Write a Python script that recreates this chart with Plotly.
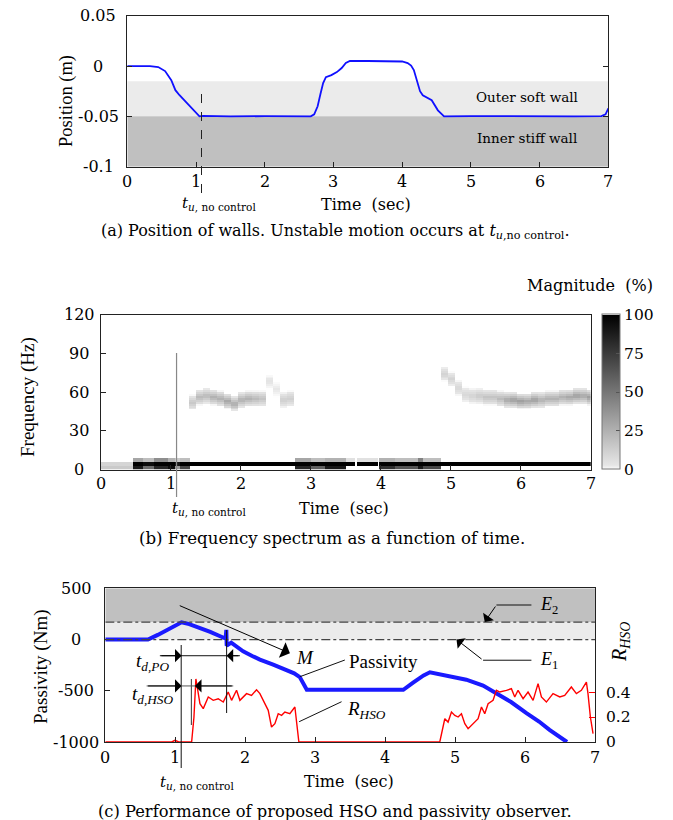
import plotly.graph_objects as go
import numpy as np

W, H = 673, 820
SERIF = "Times New Roman, Liberation Serif, Times, serif"
WIDE = "DejaVu Serif, serif"


def px(x):
    return x / W


def py(y):
    return 1 - y / H


# ---------------- (a) position of walls ----------------
pos_t = [0.0, 0.33, 0.45, 0.55, 0.64, 0.70, 0.76, 0.83, 0.925, 1.0, 1.05, 1.1, 1.5, 2.0, 2.5, 2.67,
         2.72, 2.77, 2.81, 2.85, 2.89, 2.97, 3.05, 3.12, 3.18, 3.24, 3.5, 3.89, 4.0, 4.08, 4.13,
         4.17, 4.21, 4.26, 4.30, 4.36, 4.43, 4.52, 4.61, 5.0, 5.5, 6.0, 6.5, 6.9, 6.96, 7.0]
pos_v = [0.0, 0.0, -0.001, -0.005, -0.014, -0.024, -0.029, -0.034, -0.0405, -0.046, -0.05, -0.0495,
         -0.05, -0.0498, -0.05, -0.05, -0.048, -0.04, -0.028, -0.017, -0.011, -0.009, -0.006, -0.002,
         0.003, 0.005, 0.005, 0.005, 0.0045, 0.003, 0.0005, -0.004, -0.014, -0.025, -0.029, -0.031,
         -0.034, -0.044, -0.05, -0.0497, -0.05, -0.0497, -0.05, -0.0498, -0.048, -0.042]
pos_ticks = [0.05, 0, -0.05, -0.1]
pos_tick_text = ["0.05", "0", "-0.05", "-0.1"]
time_ticks = [0, 1, 2, 3, 4, 5, 6, 7]
outer_wall = -0.015
inner_wall = -0.05
t_unstable = 1.08

# ---------------- (b) spectrum ----------------
band_start = [0.00, 0.44, 0.60, 0.75, 0.95, 1.05, 1.12, 1.27, 2.78, 3.00, 3.20, 3.50, 3.625, 3.65,
              3.95, 3.975, 4.20, 4.52, 4.60, 4.85]
band_core = [10, 100, 95, 100, 100, 90, 100, 100, 100, 100, 100, 100, 0, 100, 0, 100, 100, 100, 100, 100]
band_under = [15, 90, 55, 85, 95, 35, 70, 0, 85, 60, 90, 0, 0, 0, 0, 80, 65, 90, 70, 0]
band_over = [0, 30, 20, 40, 25, 15, 20, 0, 30, 20, 25, 5, 0, 5, 0, 25, 20, 45, 20, 0]

ridge_start = [1.25, 1.35, 1.45, 1.55, 1.65, 1.75, 1.85, 1.95, 2.05, 2.15, 2.25, 2.35, 2.45, 2.55, 2.65,
               4.85, 4.95, 5.05, 5.15, 5.25, 5.35, 5.45, 5.55, 5.65, 5.75, 5.85, 5.95, 6.05, 6.15,
               6.25, 6.35, 6.45, 6.55, 6.65, 6.75, 6.85, 6.95]
ridge_freq = [52, 56, 57, 56, 55, 53, 51, 54, 55, 55, 55, 68, 62, 54, 55,
              74, 70, 63, 58, 57, 57, 56, 56, 55, 54, 54, 53, 53, 54, 54, 55, 55, 56, 56, 57, 57, 56]
ridge_mag = [16, 22, 22, 26, 26, 30, 28, 26, 26, 22, 18, 4, 3, 13, 13,
             11, 11, 9, 9, 11, 15, 18, 18, 22, 30, 34, 34, 30, 34, 26, 26, 26, 26, 30, 34, 30, 34]
freq_ticks = [0, 30, 60, 90, 120]
mag_ticks = [0, 25, 50, 75, 100]

# ---------------- (c) passivity / HSO ----------------
pas_t = [0, 0.61, 0.75, 0.88, 1.0, 1.09, 1.2, 1.35, 1.5, 1.65, 1.72, 1.73, 1.735, 1.8, 1.97, 2.1, 2.21,
         2.4, 2.59, 2.7, 2.78, 2.83, 2.88, 3.5, 4.0, 4.26, 4.4, 4.55, 4.64, 4.8, 5.0, 5.16, 5.4, 5.59,
         5.8, 6.02, 6.2, 6.35, 6.5, 6.6]
pas_v = [0, 0, 45, 93, 140, 168, 150, 114, 75, 30, 10, 95, -60, -30, -115, -160, -196,
         -245, -294, -330, -366, -420, -490, -490, -490, -490, -420, -350, -320, -340, -370, -392, -450,
         -523, -610, -719, -800, -882, -950, -1000]
r_t = [0, 0.95, 0.996, 1.05, 1.1, 1.234, 1.267, 1.295, 1.353, 1.40, 1.472, 1.543, 1.614, 1.686, 1.757,
       1.805, 1.876, 1.924, 2.019, 2.09, 2.162, 2.21, 2.281, 2.329, 2.376, 2.424, 2.472, 2.52, 2.567,
       2.638, 2.71, 2.733, 2.767, 4.781, 4.853, 4.9, 4.948, 4.996, 5.043, 5.091, 5.139, 5.186, 5.258,
       5.329, 5.377, 5.424, 5.472, 5.543, 5.591, 5.639, 5.734, 5.805, 5.853, 5.9, 5.972, 6.043, 6.115,
       6.186, 6.234, 6.305, 6.4, 6.496, 6.567, 6.662, 6.734, 6.805, 6.877, 6.9, 6.934, 6.972]
r_v = [0, 0, 0.013, 0, 0, 0, 0.20, 0.51, 0.31, 0.27, 0.364, 0.337, 0.35, 0.323, 0.404,
       0.337, 0.418, 0.337, 0.391, 0.377, 0.423, 0.391, 0.310, 0.256, 0.121, 0.148, 0.229, 0.216, 0.242,
       0.229, 0.283, 0.175, 0, 0, 0.188, 0.161, 0.242, 0.215, 0.202, 0.229, 0.148, 0.108, 0.148,
       0.188, 0.283, 0.229, 0.31, 0.337, 0.418, 0.404, 0.418, 0.431, 0.364, 0.418, 0.35, 0.404, 0.337,
       0.472, 0.364, 0.323, 0.391, 0.364, 0.377, 0.445, 0.391, 0.418, 0.485, 0.391, 0.202, 0.067]
pas_ticks = [500, 0, -500, -1000]
r_ticks = [0, 0.2, 0.4]
r_tick_text = ["0", "0.2", "0.4"]
E1 = 0
E2 = 170

# ---------------- build spectrogram grid ----------------
dt, df = 0.025, 1.5
tc = np.arange(0, 7.0, dt) + dt / 2
fc = np.arange(0, 120, df) + df / 2
Z = np.zeros((len(fc), len(tc)))
band_end = band_start[1:] + [7.0]
core_rows = (fc >= 3) & (fc < 6.5)
under_rows = fc < 3
over_rows = (fc >= 6.5) & (fc < 9.5)
for s, e, c, u, o in zip(band_start, band_end, band_core, band_under, band_over):
    for j in np.where((tc >= s) & (tc < e))[0]:
        Z[core_rows, j] = np.maximum(Z[core_rows, j], c)
        Z[under_rows, j] = np.maximum(Z[under_rows, j], u)
        Z[over_rows, j] = np.maximum(Z[over_rows, j], o)
for s, f, m in zip(ridge_start, ridge_freq, ridge_mag):
    w = np.clip(1 - np.abs(fc - f) / 6.0, 0, 1)
    for j in np.where((tc >= s) & (tc < s + 0.1))[0]:
        Z[:, j] = np.maximum(Z[:, j], m * w)

fig = go.Figure()

# (a)
fig.add_trace(go.Scatter(x=pos_t, y=pos_v, mode="lines", line=dict(color="#1010ff", width=1.8),
                         xaxis="x", yaxis="y", showlegend=False))
# (b)
fig.add_trace(go.Heatmap(x=tc, y=fc, z=Z, zmin=0, zmax=100, xaxis="x2", yaxis="y2",
                         colorscale=[[0, "#ffffff"], [0.03, "#e6e6e6"], [1, "#000000"]],
                         colorbar=dict(x=px(602), xanchor="left", y=py(469.5), yanchor="bottom",
                                       lenmode="pixels", len=155, thicknessmode="pixels", thickness=18,
                                       xpad=0, ypad=0, outlinewidth=1, outlinecolor="#777",
                                       tickvals=mag_ticks, ticks="inside", ticklen=4, tickcolor="#555",
                                       tickfont=dict(family=WIDE, size=15.5, color="black")),
                         hoverinfo="skip"))
# (c)
fig.add_trace(go.Scatter(x=pas_t, y=pas_v, mode="lines", line=dict(color="#1a1aff", width=4),
                         xaxis="x3", yaxis="y3", showlegend=False))
fig.add_trace(go.Scatter(x=r_t, y=r_v, mode="lines", line=dict(color="#ff0000", width=1.4),
                         xaxis="x3", yaxis="y4", showlegend=False))

axis_common = dict(showgrid=False, zeroline=False, showline=True, linecolor="#222", linewidth=1,
                   ticks="inside", ticklen=5, tickcolor="#222", showticklabels=False)

fig.update_layout(
    width=W, height=H, margin=dict(l=0, r=0, t=0, b=0),
    paper_bgcolor="white", plot_bgcolor="white",
    font=dict(family=WIDE, size=16, color="black"),
    xaxis=dict(axis_common, domain=[px(127.3), px(608.3)], anchor="y", range=[0, 7],
               tickvals=time_ticks, mirror=True),
    yaxis=dict(axis_common, domain=[py(166.7), py(15.7)], anchor="x", range=[-0.1, 0.05],
               tickvals=pos_ticks, mirror="ticks"),
    xaxis2=dict(axis_common, domain=[px(101), px(590.7)], anchor="y2", range=[0, 7],
                tickvals=time_ticks, mirror=True),
    yaxis2=dict(axis_common, domain=[py(469.5), py(314.5)], anchor="x2", range=[0, 120],
                tickvals=freq_ticks, mirror=True),
    xaxis3=dict(axis_common, domain=[px(105.3), px(595)], anchor="y3", range=[0, 7],
                tickvals=time_ticks, mirror=True),
    yaxis3=dict(axis_common, domain=[py(742), py(588.3)], anchor="x3", range=[-1000, 500],
                tickvals=pas_ticks, mirror=True),
    yaxis4=dict(showgrid=False, zeroline=False, showline=False, overlaying="y3", side="right",
                anchor="x3", range=[0, 1.243], tickvals=r_ticks, showticklabels=False,
                ticks="inside", ticklen=6, tickcolor="#ff0000"),
)

shapes = []
# (a) walls
shapes.append(dict(type="rect", xref="x", yref="y", x0=0, x1=7, y0=inner_wall, y1=outer_wall,
                   fillcolor="#ebebeb", line=dict(width=0), layer="below"))
shapes.append(dict(type="rect", xref="x", yref="y", x0=0, x1=7, y0=-0.1, y1=inner_wall,
                   fillcolor="#c0c0c0", line=dict(width=0), layer="below"))
shapes.append(dict(type="line", xref="x", yref="paper", x0=t_unstable, x1=t_unstable,
                   y0=py(193), y1=py(94), line=dict(color="#222", width=1, dash="dash")))
# (b)
shapes.append(dict(type="line", xref="x2", yref="paper", x0=t_unstable, x1=t_unstable,
                   y0=py(497), y1=py(353), line=dict(color="#888", width=1.2)))
# (c) background bands
shapes.append(dict(type="rect", xref="x3", yref="y3", x0=0, x1=7, y0=E2, y1=500,
                   fillcolor="#c0c0c0", line=dict(width=0), layer="below"))
shapes.append(dict(type="rect", xref="x3", yref="y3", x0=0, x1=7, y0=E1, y1=E2,
                   fillcolor="#ebebeb", line=dict(width=0), layer="below"))
for e in (E1, E2):
    shapes.append(dict(type="line", xref="x3", yref="y3", x0=0, x1=7, y0=e, y1=e,
                       line=dict(color="#444", width=1.2, dash="dashdot")))
# (c) vertical markers
shapes.append(dict(type="line", xref="x3", yref="paper", x0=1.085, x1=1.085, y0=py(768), y1=py(645),
                   line=dict(color="#111", width=1)))
shapes.append(dict(type="line", xref="x3", yref="paper", x0=1.734, x1=1.734, y0=py(713), y1=py(630),
                   line=dict(color="#111", width=1)))
shapes.append(dict(type="line", xref="x3", yref="paper", x0=1.23, x1=1.23, y0=py(725), y1=py(679),
                   line=dict(color="#333", width=1)))
# (c) horizontal dimension lines
shapes.append(dict(type="line", xref="x3", yref="y3", x0=0.78, x1=1.924, y0=-158, y1=-158,
                   line=dict(color="#111", width=1)))
shapes.append(dict(type="line", xref="x3", yref="y3", x0=0.591, x1=1.829, y0=-453, y1=-453,
                   line=dict(color="#555", width=1)))
# leaders
shapes.append(dict(type="line", xref="x3", yref="y3", x0=2.781, x1=3.424, y0=-363, y1=-200,
                   line=dict(color="#111", width=1)))
shapes.append(dict(type="line", xref="x3", yref="y3", x0=2.771, x1=3.377, y0=-802, y1=-607,
                   line=dict(color="#111", width=1)))
shapes.append(dict(type="line", xref="x3", yref="y3", x0=5.591, x1=6.091, y0=337, y1=337,
                   line=dict(color="#111", width=1)))
shapes.append(dict(type="line", xref="x3", yref="y3", x0=5.4, x1=6.091, y0=-202, y1=-202,
                   line=dict(color="#111", width=1)))
fig.update_layout(shapes=shapes)

ann = []


def text(x, y, s, size=16, xanchor="center", angle=0, family=WIDE):
    ann.append(dict(x=px(x), y=py(y), xref="paper", yref="paper", text=s, showarrow=False,
                    xanchor=xanchor, yanchor="middle", textangle=angle,
                    font=dict(family=family, size=size, color="black")))


def arrow(x0, y0, x1, y1, size=2.2):
    ann.append(dict(x=x1, y=y1, ax=x0, ay=y0, xref="x3", yref="y3", axref="x3", ayref="y3",
                    text="", showarrow=True, arrowhead=1, arrowsize=size, arrowwidth=1,
                    arrowcolor="black", standoff=0, startstandoff=0))


def dtext(x, y, s, size=19, xanchor="left"):
    ann.append(dict(x=x, y=y, xref="x3", yref="y3", text=s, showarrow=False, xanchor=xanchor,
                    yanchor="middle", font=dict(family=SERIF, size=size, color="black")))


def ytick(xc, axis, vals, labels, size=16, xanchor="center"):
    for v, s in zip(vals, labels):
        ann.append(dict(x=px(xc), y=v, xref="paper", yref=axis, text=s, showarrow=False,
                        xanchor=xanchor, yanchor="middle", font=dict(family=WIDE, size=size)))


def xtick(axis, ycen, vals, size=16):
    for v in vals:
        ann.append(dict(x=v, y=py(ycen), xref=axis, yref="paper", text=str(v), showarrow=False,
                        xanchor="center", yanchor="middle", font=dict(family=WIDE, size=size)))


# tick labels
ytick(98, "y", pos_ticks, pos_tick_text)
ytick(79, "y2", freq_ticks, [str(v) for v in freq_ticks])
ytick(76, "y3", pas_ticks, [str(v) for v in pas_ticks])
ytick(604, "y4", r_ticks, r_tick_text, 15.5, "left")
xtick("x", 182, time_ticks)
xtick("x2", 483, time_ticks)
xtick("x3", 757, time_ticks)

tu = "<i>t</i><sub><i>u</i>, no control</sub>"
# (a)
text(66, 101, "Position (m)", 18.5, angle=-90, family=SERIF)
text(527, 97, "Outer soft wall", 13.5)
text(527, 138, "Inner stiff wall", 13.5)
text(180, 203, tu, 15, xanchor="left")
text(366, 204, "Time&nbsp; (sec)", 16)
text(335, 231, "(a) Position of walls. Unstable motion occurs at <i>t</i><sub><i>u</i>,no control</sub>.", 16)
# (b)
text(28, 397, "Frequency (Hz)", 19, angle=-90, family=SERIF)
text(590, 285, "Magnitude&nbsp; (%)", 16)
text(170, 508, tu, 15, xanchor="left")
text(344, 508, "Time&nbsp; (sec)", 16)
text(332, 538, "(b) Frequency spectrum as a function of time.", 16.6)
# (c)
text(41, 667, "Passivity (Nm)", 19, angle=-90, family=SERIF)
text(620, 642, "<i>R</i><sub><i>HSO</i></sub>", 20, angle=-90, family=SERIF)
text(158, 782, tu, 15, xanchor="left")
text(349, 781, "Time&nbsp; (sec)", 16)
text(335, 811, "(c) Performance of proposed HSO and passivity observer.", 16.3)

arrow(0.78, -158, 1.091, -158)
arrow(1.924, -158, 1.734, -158)
arrow(0.591, -453, 1.091, -453)
arrow(1.829, -453, 1.281, -453)
arrow(1.043, 337, 2.639, -134, 2.8)
arrow(5.591, 337, 5.424, 172, 2.2)
arrow(5.4, -202, 5.02, 0, 2.2)

dtext(0.681, -219, "<i>t</i><sub><i>d,PO</i></sub>", 19, "center")
dtext(0.681, -541, "<i>t</i><sub><i>d,HSO</i></sub>", 19, "center")
dtext(2.70, -180, "<i>M</i>", 19)
dtext(3.45, -216, "Passivity", 19)
dtext(3.42, -688, "<i>R</i><sub><i>HSO</i></sub>", 19)
dtext(6.18, 337, "<i>E</i><sub>2</sub>", 18)
dtext(6.18, -202, "<i>E</i><sub>1</sub>", 18)

fig.update_layout(annotations=ann)
fig.write_html(
    "out.html",
    config={"displayModeBar": False, "staticPlot": True},
    post_script="document.documentElement.style.margin='0';document.body.style.margin='0';"
                "document.body.style.overflow='hidden';",
)
